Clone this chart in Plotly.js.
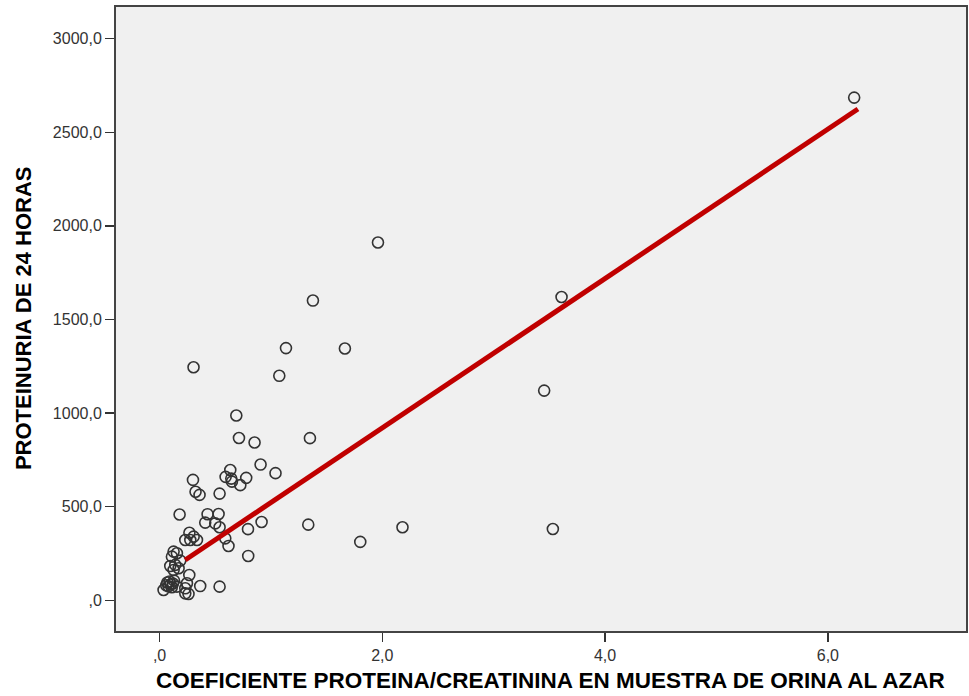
<!DOCTYPE html>
<html>
<head>
<meta charset="utf-8">
<script src="https://cdn.plot.ly/plotly-3.0.1.min.js"></script>
<style>html,body{margin:0;padding:0;background:#fff;}#chart{width:969px;height:696px;}</style>
</head>
<body>
<div id="chart"></div>
<script>
// Coeficiente proteina/creatinina (x) vs proteinuria de 24 horas (y)
const coefPC = [6.236, 3.609, 3.453, 3.531, 2.181, 1.802, 1.961, 1.377, 1.664, 1.135,
  1.075, 1.350, 1.335, 0.305, 0.689, 0.713, 0.853, 0.907, 1.041, 0.300,
  0.635, 0.593, 0.644, 0.778, 0.725, 0.323, 0.359, 0.539, 0.180, 0.431,
  0.530, 0.410, 0.500, 0.916, 0.539, 0.268, 0.306, 0.276, 0.336, 0.231,
  0.590, 0.619, 0.794, 0.796, 0.126, 0.156, 0.111, 0.186, 0.141, 0.096,
  0.126, 0.171, 0.267, 0.036, 0.156, 0.231, 0.231, 0.260, 0.365, 0.539,
  0.246, 0.070, 0.090, 0.100, 0.120, 0.080, 0.110, 0.130, 0.060, 0.650];
const prot24h = [2685, 1620, 1120, 381, 390, 312, 1911, 1601, 1345, 1347,
  1199, 866, 404, 1245, 987, 867, 843, 725, 679, 643,
  696, 659, 650, 654, 615, 580, 563, 570, 458, 460,
  461, 415, 411, 418, 390, 361, 340, 322, 322, 322,
  331, 290, 380, 237, 260, 251, 233, 212, 189, 183,
  162, 171, 135, 55, 73, 64, 37, 34, 76, 73,
  91, 95, 100, 85, 90, 75, 70, 105, 80, 634];

// Linear fit line endpoints
const fitX = [0.23, 6.27];
const fitY = [215, 2624];

// Tick labels and titles
const xTickVals = [0, 2, 4, 6];
const xTickText = [",0", "2,0", "4,0", "6,0"];
const yTickVals = [0, 500, 1000, 1500, 2000, 2500, 3000];
const yTickText = [",0", "500,0", "1000,0", "1500,0", "2000,0", "2500,0", "3000,0"];
const xTitle = "COEFICIENTE PROTEINA/CREATININA EN MUESTRA DE ORINA AL AZAR";
const yTitle = "PROTEINURIA DE 24 HORAS";

const traces = [
  {
    x: coefPC, y: prot24h, type: "scatter", mode: "markers",
    marker: {symbol: "circle-open", size: 11, color: "#333333", line: {width: 1.6, color: "#333333"}},
    hoverinfo: "x+y", showlegend: false
  },
  {
    x: fitX, y: fitY, type: "scatter", mode: "lines",
    line: {color: "#c00000", width: 5},
    hoverinfo: "skip", showlegend: false
  }
];

const titleFont = {color: "#000000", family: "Liberation Sans, Arial, sans-serif", weight: "bold"};

const layout = {
  width: 969, height: 696,
  paper_bgcolor: "#ffffff",
  plot_bgcolor: "#f0f0f0",
  margin: {l: 116, r: 3, t: 7, b: 65},
  showlegend: false,
  font: {family: "Liberation Sans, Arial, sans-serif", color: "#333333"},
  xaxis: {
    range: [-0.391, 7.24],
    tickvals: xTickVals, ticktext: xTickText,
    ticks: "outside", ticklen: 9, tickwidth: 1.5, tickcolor: "#333333",
    tickfont: {size: 16, color: "#333333"},
    showgrid: false, zeroline: false,
    showline: true, linecolor: "#444444", linewidth: 2, mirror: true
  },
  yaxis: {
    range: [-164, 3169],
    tickvals: yTickVals, ticktext: yTickText,
    ticks: "outside", ticklen: 9, tickwidth: 1.5, tickcolor: "#333333",
    tickfont: {size: 16, color: "#333333"},
    showgrid: false, zeroline: false,
    showline: true, linecolor: "#444444", linewidth: 2, mirror: true
  },
  annotations: [
    {text: xTitle, xref: "paper", yref: "paper", x: 0.511, y: -0.1026,
     xanchor: "center", yanchor: "bottom", showarrow: false,
     font: Object.assign({size: 22.5}, titleFont)},
    {text: yTitle, xref: "paper", yref: "paper", x: -0.109, y: 0.502,
     xanchor: "center", yanchor: "middle", textangle: -90, showarrow: false,
     font: Object.assign({size: 22}, titleFont)}
  ]
};

Plotly.newPlot("chart", traces, layout, {displayModeBar: false, staticPlot: true});
</script>
</body>
</html>
